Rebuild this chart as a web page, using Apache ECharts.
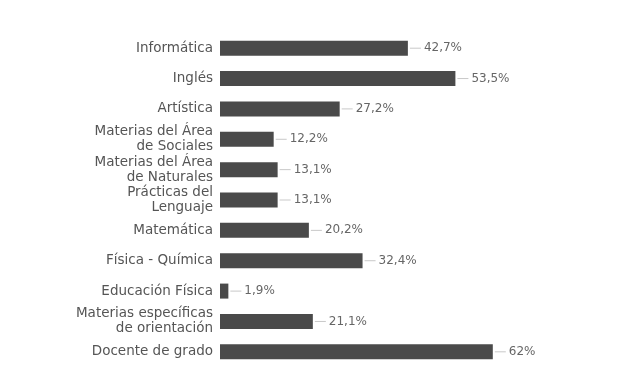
<!DOCTYPE html>
<html>
<head>
<meta charset="utf-8">
<script src="https://cdn.jsdelivr.net/npm/echarts@6/dist/echarts.min.js"></script>
<style>
	html,body{margin:0;padding:0;background:#fff;}
	#chart{width:627px;height:376px;}
</style>
</head>
<body>
<div id="chart"></div>
<script>
	// categorias (de arriba hacia abajo)
	var categorias = [
		'Informática',
		'Inglés',
		'Artística',
		'Materias del Área\nde Sociales',
		'Materias del Área\nde Naturales',
		'Prácticas del\nLenguaje',
		'Matemática',
		'Física - Química',
		'Educación Física',
		'Materias específicas\nde orientación',
		'Docente de grado'
	];
	// porcentajes
	var valores = [42.7, 53.5, 27.2, 12.2, 13.1, 13.1, 20.2, 32.4, 1.9, 21.1, 62];

	var option = {
		backgroundColor: '#ffffff',
		animation: false,
		textStyle: {
			fontFamily: 'DejaVu Sans'
		},
		grid: {
			left: 220,
			right: 99,
			top: 33,
			bottom: 9
		},
		xAxis: {
			type: 'value',
			min: 0,
			max: 70,
			show: false,
			splitLine: {show: false}
		},
		yAxis: {
			type: 'category',
			data: categorias,
			inverse: true,
			axisLine: {show: false},
			axisTick: {show: false},
			axisLabel: {
				color: '#555',
				fontSize: 13.5,
				lineHeight: 15,
				align: 'right',
				margin: 7
			}
		},
		series: [
			{
				type: 'bar',
				data: valores,
				barWidth: 15,
				itemStyle: {
					color: '#4a4a4a'
				},
				label: {
					show: true,
					position: 'right',
					distance: 2,
					formatter: function (p) {
						return '{l|}{v|' + String(p.value).replace('.', ',') + '%}';
					},
					rich: {
						l: {
							width: 11,
							height: 1,
							backgroundColor: '#c8c8c8'
						},
						v: {
							color: '#666',
							fontSize: 12,
							padding: [0, 0, 0, 3]
						}
					}
				}
			}
		]
	};
	var myChart = echarts.init(document.getElementById('chart'));
	myChart.setOption(option);
	//窗口变动，表格刷新
	window.addEventListener('resize', function(){ myChart.resize(); });
</script>
</body>
</html>
